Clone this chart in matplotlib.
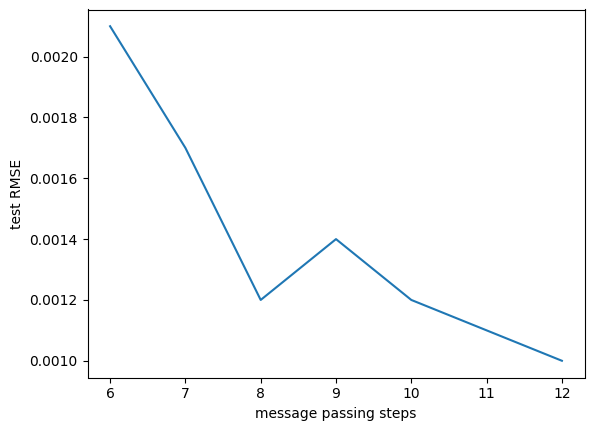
import matplotlib
matplotlib.use('Agg')
import matplotlib.pyplot as plt

steps = [6, 7, 8, 9, 10, 11, 12]
rmse = [0.0021, 0.0017, 0.0012, 0.0014, 0.0012, 0.0011, 0.0010]

fig = plt.figure(figsize=(5.93, 4.32), dpi=100)
ax = fig.add_axes([87.5/593, 1 - 377.5/432, 497/593, 368/432])
ax.plot(steps, rmse)
ax.set_xlabel('message passing steps')
ax.set_ylabel('test RMSE')
fig.savefig('out.png', dpi=100)
